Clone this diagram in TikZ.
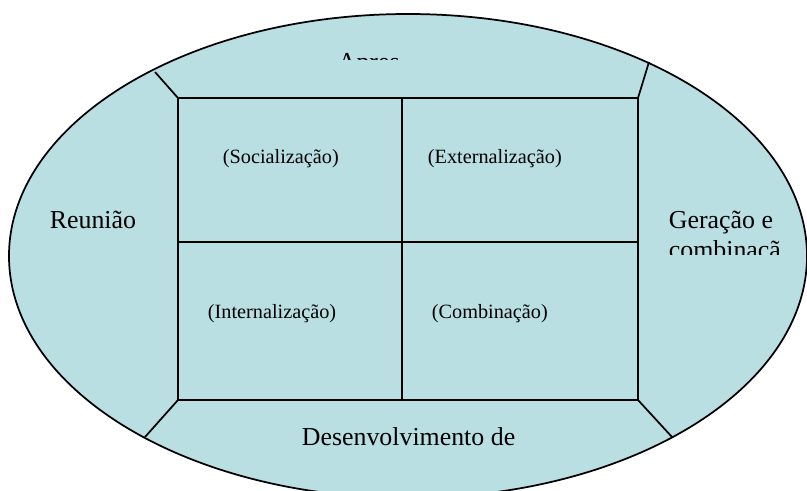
\documentclass[tikz,border=0pt]{standalone}
\usepackage{fontspec}
\setmainfont{Liberation Serif}
\usepackage{xcolor}
\usepackage{tikz}
\usetikzlibrary{positioning}
\definecolor{seablue}{RGB}{185,223,227}

\begin{document}
\begin{tikzpicture}[x=0.75pt,y=-0.75pt,line width=1.3pt,
    bigtext/.style={font=\fontsize{19.4}{23}\selectfont,inner sep=0pt,anchor=base west},
    smalltext/.style={font=\fontsize{15.2}{18}\selectfont,inner sep=0pt,anchor=base west}]
      \clip (0,0) rectangle (807,490);
      \draw[fill=seablue] (408,256) ellipse [x radius=399, y radius=242];
      % corners of the grid and ends on the ellipse
      \coordinate (tl) at (178,98);
      \coordinate (tr) at (638,98);
      \coordinate (bl) at (178,400);
      \coordinate (br) at (638,400);
      \coordinate (tm) at (402,98);
      \coordinate (bm) at (402,400);
      \coordinate (ml) at (178,242);
      \coordinate (mr) at (638,242);
      \coordinate (etl) at (155,72);
      \coordinate (etr) at (649,62);
      \coordinate (ebl) at (145,437);
      \coordinate (ebr) at (672,437);
      \draw (tl) rectangle (br);
      \draw (tm) -- (bm);
      \draw (ml) -- (mr);
      \foreach \a/\b in {tl/etl,tr/etr,bl/ebl,br/ebr}
        \draw (\a) -- (\b);
      \node[smalltext] (soc) at (222,163) {(Socialização)};
      \node[smalltext] (ext) at (427,163) {(Externalização)};
      \node[smalltext] (inter) at (207,318) {(Internalização)};
      \node[smalltext] (comb) at (431,318) {(Combinação)};
      \node[bigtext] (reun) at (49,228) {Reunião};
      \node[bigtext] (desen) at (301,445) {Desenvolvimento de};
      \begin{scope}
        \clip (300,40) rectangle (400,59);
        \node[bigtext] (apres) at (337,70) {Apres};
      \end{scope}
      \begin{scope}
        \clip (640,190) rectangle (780,254);
        \node[bigtext] (gera) at (668,228) {Geração e};
        \node[bigtext] (combi) at (668,258.5) {combinação};
      \end{scope}
    \end{tikzpicture}
\end{document}
